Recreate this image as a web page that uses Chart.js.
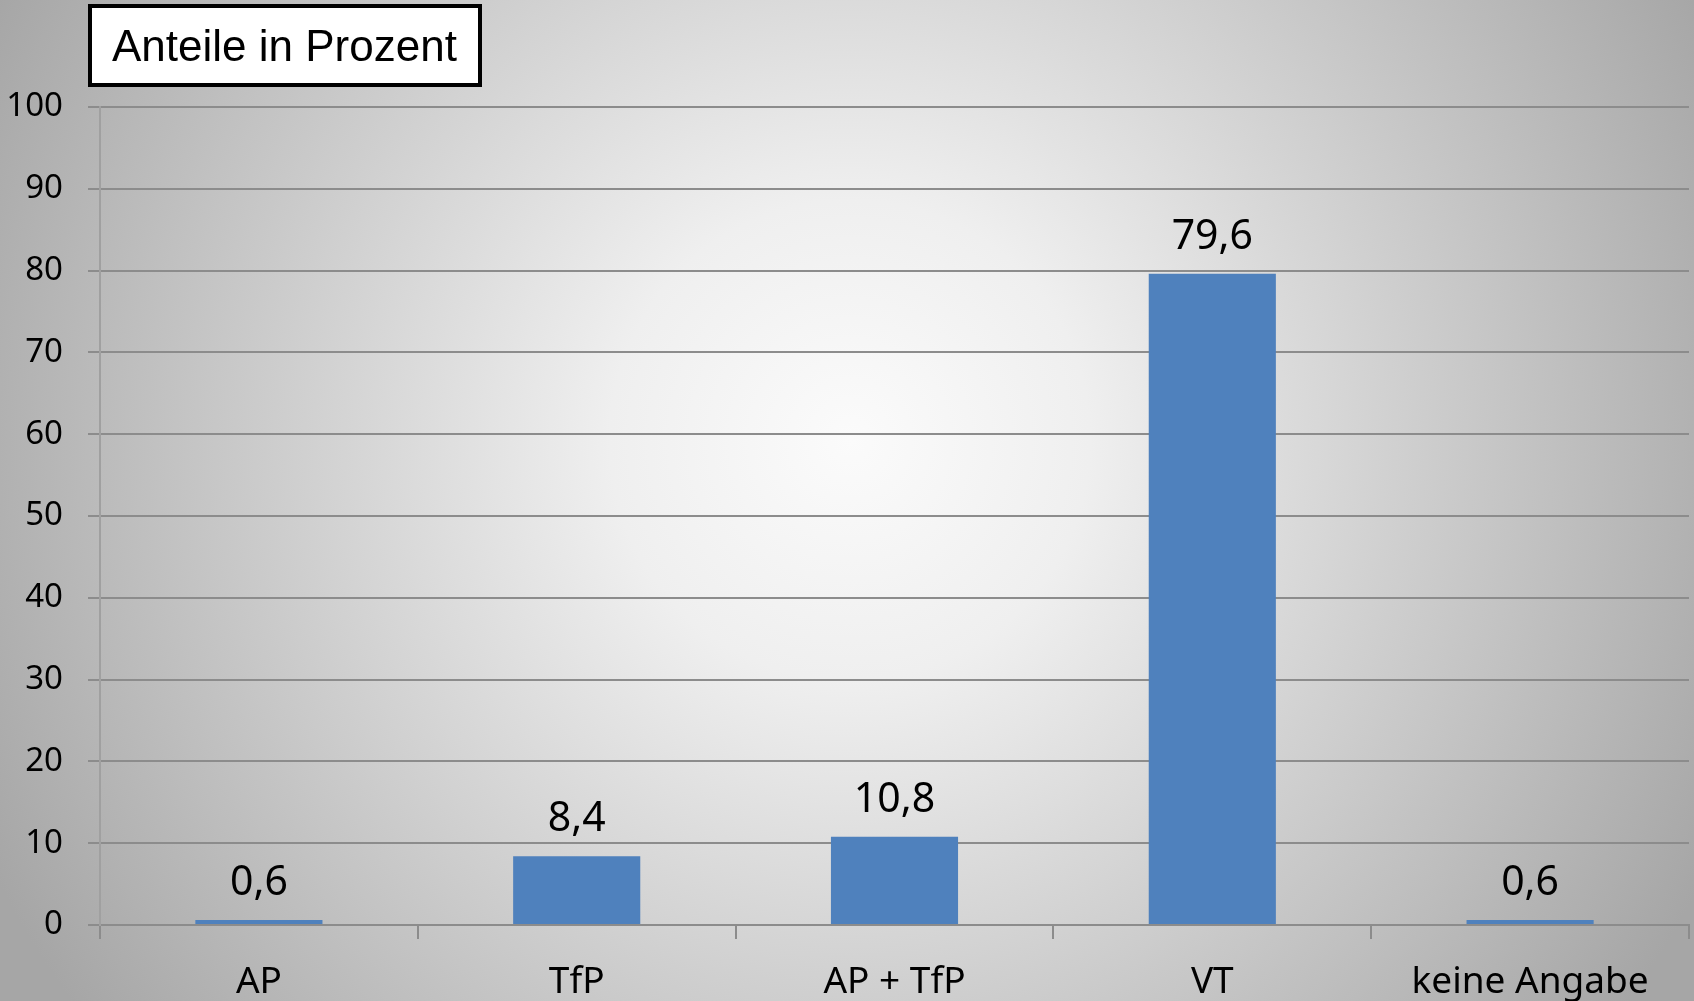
<!DOCTYPE html>
<html>
<head>
<meta charset="utf-8">
<script src="https://cdn.jsdelivr.net/npm/chart.js@4/dist/chart.umd.min.js"></script>
<style>
  html, body { margin: 0; padding: 0; background: #c0c0c0; }
  #c { display: block; }
</style>
</head>
<body>
<canvas id="c" width="1694" height="1001"></canvas>
<script>
const categories = ["AP", "TfP", "AP + TfP", "VT", "keine Angabe"];
const shares = [0.6, 8.4, 10.8, 79.6, 0.6];
const yTicks = [0, 10, 20, 30, 40, 50, 60, 70, 80, 90, 100];
const titleText = "Anteile in Prozent";

const fmt = v => v.toLocaleString('de-DE', { minimumFractionDigits: 1, maximumFractionDigits: 1 });

const bgPlugin = {
  id: 'bg',
  beforeDraw(chart) {
    const ctx = chart.ctx;
    const w = chart.width, h = chart.height;
    ctx.save();
    const g = ctx.createRadialGradient(850, 440, 0, 850, 440, 960);
    g.addColorStop(0, '#fbfbfb');
    g.addColorStop(0.25, '#efefef');
    g.addColorStop(1, '#a6a6a6');
    ctx.fillStyle = g;
    ctx.fillRect(0, 0, w, h);
    ctx.restore();
  }
};

const labelPlugin = {
  id: 'valueLabels',
  afterDatasetsDraw(chart) {
    const ctx = chart.ctx;
    const meta = chart.getDatasetMeta(0);
    ctx.save();
    ctx.font = '41px "Noto Sans"';
    ctx.fillStyle = '#000';
    ctx.textAlign = 'center';
    ctx.textBaseline = 'alphabetic';
    meta.data.forEach((bar, i) => {
      ctx.fillText(fmt(shares[i]), bar.x, bar.y - 25);
    });
    ctx.restore();
  },
  afterDraw(chart) {
    const ctx = chart.ctx;
    ctx.save();
    ctx.fillStyle = '#fff';
    ctx.fillRect(90, 6, 390, 79);
    ctx.lineWidth = 4;
    ctx.strokeStyle = '#000';
    ctx.strokeRect(90, 6, 390, 79);
    ctx.fillStyle = '#000';
    ctx.font = '44px "Liberation Sans"';
    ctx.textAlign = 'left';
    ctx.textBaseline = 'alphabetic';
    ctx.fillText(titleText, 112, 61);
    ctx.restore();
  }
};

new Chart(document.getElementById('c'), {
  type: 'bar',
  data: {
    labels: categories,
    datasets: [{
      data: shares,
      backgroundColor: '#4f81bd',
      borderWidth: 0,
      barPercentage: 0.4,
      categoryPercentage: 1.0
    }]
  },
  options: {
    responsive: false,
    animation: false,
    events: [],
    layout: { padding: { top: 107, right: 5, left: 0, bottom: 0 } },
    plugins: {
      legend: { display: false },
      tooltip: { enabled: false },
      title: { display: false }
    },
    scales: {
      x: {
        offset: true,
        grid: {
          offset: true,
          drawOnChartArea: false,
          drawTicks: true,
          tickLength: 14,
          color: '#8c8c8c',
          lineWidth: 2
        },
        border: { display: true, color: '#8c8c8c', width: 2 },
        ticks: {
          color: '#000',
          font: { family: 'Noto Sans', size: 37 },
          padding: 21,
          maxRotation: 0,
          autoSkip: false
        },
        afterFit(scale) { scale.height = 76; }
      },
      y: {
        min: 0,
        max: 100,
        afterBuildTicks(scale) { scale.ticks = yTicks.map(v => ({ value: v })); },
        grid: {
          color: '#8c8c8c',
          lineWidth: 2,
          tickLength: 12
        },
        border: { display: true, color: '#a0a0a0', width: 2 },
        ticks: {
          color: '#000',
          font: { family: 'Noto Sans', size: 33 },
          padding: 25
        },
        afterFit(scale) { scale.width = 100; }
      }
    }
  },
  plugins: [bgPlugin, labelPlugin]
});
</script>
</body>
</html>
